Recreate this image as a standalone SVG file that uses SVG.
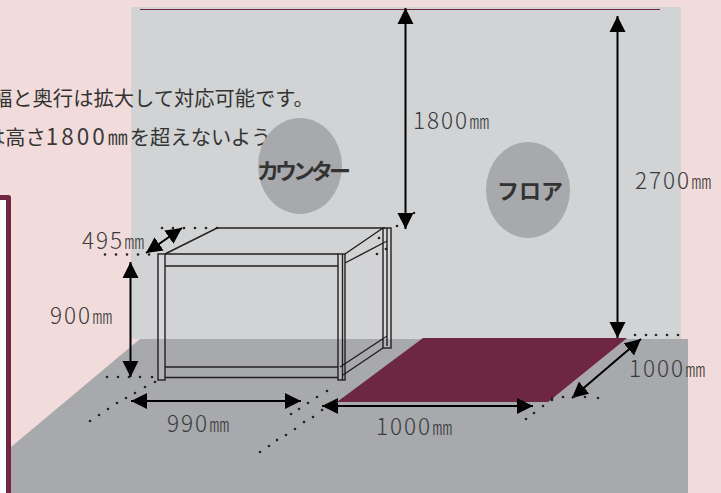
<svg xmlns="http://www.w3.org/2000/svg" width="721" height="493" viewBox="0 0 721 493">
<style>
.t{font-family:"Noto Sans CJK JP","Liberation Sans",sans-serif;font-size:20.300px;fill:#333}
.d{font-family:"Noto Sans CJK JP","Liberation Sans",sans-serif;font-size:22.500px;font-weight:300;letter-spacing:2px;fill:#3a3a3c}
.u{font-size:20px;letter-spacing:0}
.k{font-family:"Noto Sans CJK JP",sans-serif;font-weight:700;fill:#333;font-size:22px}
.a{stroke:#000;stroke-width:2;fill:none;marker-start:url(#h);marker-end:url(#h)}
.f{stroke:#231f20;stroke-width:1.400;fill:none}
.p{stroke:#231f20;stroke-width:1.400;fill:#fff;fill-opacity:.12}
</style>
<defs>
<marker id="h" markerUnits="userSpaceOnUse" markerWidth="17" markerHeight="17" refX="16" refY="8.500" orient="auto-start-reverse" viewBox="0 0 17 17"><path d="M0 0.500L16 8.500L0 16.500Z" fill="#000"/></marker>
<marker id="m" markerUnits="userSpaceOnUse" markerWidth="4" markerHeight="4" refX="2" refY="2" viewBox="0 0 4 4"><circle cx="2" cy="2" r="1.300" fill="#222"/></marker>
</defs>
<rect width="721" height="493" fill="#f2dcdb"/>
<rect x="131" y="7" width="550" height="332" fill="#d1d3d4"/>
<path d="M140 339H688V493H11V447Z" fill="#a7a9ac"/>
<path d="M140 9.500H660" stroke="#6d2740" stroke-width="1"/>
<path d="M-6 197.500H8.500V499H-6Z" fill="#fff" stroke="#6d2740" stroke-width="5" stroke-linejoin="round"/>
<path d="M423 338H627L548 402H337Z" fill="#6d2740"/>
<g id="cabinet">
<path class="f" d="M165 254L217 228H385M345 254L383 228"/>
<path class="f" d="M165 266H338M165 367H338M165 377.500H338M345 263L387 241" stroke-width="1"/>
<rect class="p" x="158" y="254" width="7" height="126"/>
<rect class="p" x="338" y="254" width="7" height="126"/>
<path class="f" d="M342.500 254V380M165 254H338M340 367L387 336M343 375L383 348"/>
<rect class="p" x="383" y="228" width="8" height="120"/>
<path class="f" d="M387 228V346"/>
</g>
<g id="connectors">
<path class="a" d="M405.500 8V229"/>
<path class="a" d="M617.500 16V338"/>
<path class="a" d="M130.500 262V377"/>
<path class="a" d="M146 253L182 228"/>
<path class="a" d="M131 401H301"/>
<path class="a" d="M322 406H533"/>
<path class="a" d="M572 398L641 339"/>
<g id="extension-dots" fill="none" stroke="none" marker-mid="url(#m)" marker-start="url(#m)" marker-end="url(#m)">
<path d="M162 228L173 228L184 228L195 228L206 228L217 228"/>
<path d="M105 254.500L116 254.500L127 254.500L138 254.500L149 254.500"/>
<path d="M107 377L118 377L129 377L140 377L152 377"/>
<path d="M90 421L99 415L108 409L117 403L126 398L135 393L145 387L155 382"/>
<path d="M260 452L269 446L277 440L286 435L295 429L304 422L313 417L322 410"/>
<path d="M291 414L299 409L308 403L317 397L327 391"/>
<path d="M377 254L386 249"/>
<path d="M379 238L397 226L414 213"/>
<path d="M635 335L646 335L656 335L667 335L678 335"/>
<path d="M552 398L563 397L574 397L585 397L598 398"/>
<path d="M526 419L534 413L543 406L552 400"/>
</g>
</g>
<g id="labels">
<text class="d" x="82" y="249">495<tspan class="u">㎜</tspan></text>
<text class="d" x="50" y="324">900<tspan class="u">㎜</tspan></text>
<text class="d" x="167" y="432">990<tspan class="u">㎜</tspan></text>
<text class="d" x="376" y="435">1000<tspan class="u">㎜</tspan></text>
<text class="d" x="413" y="129">1800<tspan class="u">㎜</tspan></text>
<text class="d" x="635" y="189">2700<tspan class="u">㎜</tspan></text>
<text class="d" x="629" y="377">1000<tspan class="u">㎜</tspan></text>
<text class="t" x="-8" y="106">幅と奥行は拡大して対応可能です。</text>
<text class="t" x="-15" y="145">は高さ<tspan class="d" style="font-weight:400;letter-spacing:3px">1800<tspan class="u">㎜</tspan></tspan><tspan dx="2">を超えないよう</tspan></text>
</g>
<g id="counter"><ellipse cx="300" cy="166" rx="42" ry="48" fill="#a7a9ac"/><text class="k" x="257" y="179" letter-spacing="-4">カウンター</text></g>
<g id="floor"><ellipse cx="528" cy="190" rx="42" ry="48" fill="#a7a9ac"/><text class="k" x="497" y="199">フロア</text></g>
</svg>
